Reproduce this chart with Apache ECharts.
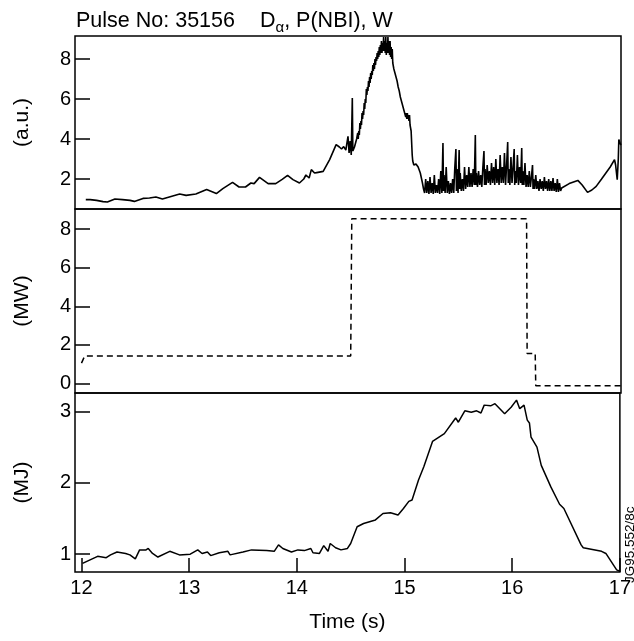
<!DOCTYPE html>
<html><head><meta charset="utf-8">
<script src="https://cdn.jsdelivr.net/npm/echarts@6/dist/echarts.min.js"></script>
<style>html,body{margin:0;padding:0;background:#fff}#c{width:634px;height:641px}</style>
</head><body><div id="c"></div>
<script>
// ---- data (time in s) ----
var xTicks = [12, 13, 14, 15, 16, 17];
var dalphaTicks = [2, 4, 6, 8];
var pnbiTicks = [0, 2, 4, 6, 8];
var wTicks = [1, 2, 3];

var titleMain = 'Pulse No: 35156';
var titleD = 'D';
var titleSub = 'α';
var titleRest = ', P(NBI), W';
var dalphaUnit = '(a.u.)';
var pnbiUnit = '(MW)';
var wUnit = '(MJ)';
var xName = 'Time (s)';
var stamp = 'JG95.552/8c';

// D-alpha signal (a.u.)
var dalpha = [
[12.04,0.97],[12.08,0.97],[12.14,0.93],[12.20,0.87],[12.24,0.85],[12.31,1.0],[12.38,0.97],[12.45,0.93],[12.49,0.88],
[12.57,1.03],[12.63,1.05],[12.69,1.1],[12.75,1.0],[12.83,1.13],[12.91,1.25],[12.97,1.18],[13.06,1.25],[13.16,1.47],
[13.25,1.27],[13.31,1.52],[13.40,1.83],[13.46,1.6],[13.52,1.6],[13.57,1.8],[13.60,1.77],[13.65,2.08],[13.73,1.77],
[13.80,1.77],[13.86,1.98],[13.91,2.18],[13.96,1.97],[14.02,1.8],[14.06,2.0],[14.08,2.2],[14.11,2.05],[14.13,2.47],
[14.16,2.3],[14.18,2.32],[14.24,2.38],[14.30,2.97],[14.36,3.72],[14.39,3.6],[14.41,3.5],[14.43,3.62],[14.45,3.45],
[14.47,4.13],[14.48,3.3],[14.49,3.9],[14.50,3.2],[14.51,6.05],[14.515,3.4],[14.53,3.6],[14.55,4.0],
[14.56,4.3],[14.565,4.0],[14.57,4.4],[14.575,4.2],[14.58,4.8],[14.585,4.5],[14.59,4.9],[14.595,4.7],[14.60,5.3],[14.605,5.0],
[14.61,5.4],[14.615,5.2],[14.62,5.8],[14.625,5.5],[14.63,6.0],[14.635,5.8],[14.64,6.5],[14.645,6.2],[14.65,6.6],[14.655,6.4],
[14.66,6.9],[14.665,6.6],[14.67,7.1],[14.675,6.8],[14.68,7.3],[14.685,7.0],[14.69,7.4],[14.695,7.2],[14.70,7.7],[14.705,7.4],
[14.71,7.8],[14.715,7.5],[14.72,8.0],[14.725,7.7],[14.73,8.1],[14.735,7.9],[14.74,8.3],[14.745,8.0],[14.75,8.4],[14.755,8.1],
[14.76,8.6],[14.765,8.2],[14.77,8.7],[14.775,8.3],[14.78,8.9],[14.785,8.3],[14.79,8.8],[14.795,8.4],[14.80,9.1],[14.805,8.4],
[14.81,8.9],[14.815,8.3],[14.82,9.1],[14.825,8.2],[14.83,8.8],[14.835,8.3],[14.84,9.1],[14.845,8.3],[14.85,8.9],[14.855,8.2],
[14.86,8.9],[14.865,8.1],[14.87,8.6],[14.875,8.0],[14.88,8.5],[14.885,7.8],[14.89,7.9],[14.895,7.5],[14.90,7.6],[14.905,7.3],
[14.91,7.4],[14.915,7.1],[14.92,7.1],[14.925,6.9],[14.93,6.9],[14.935,6.6],[14.94,6.6],[14.945,6.4],[14.95,6.4],[14.955,6.1],
[14.96,6.1],[14.965,5.9],[14.97,5.9],[14.975,5.7],[14.98,5.8],[14.985,5.5],[14.99,5.6],[14.995,5.3],[15.00,5.4],[15.005,5.1],
[15.01,5.3],[15.015,5.0],[15.02,5.3],[15.025,5.0],[15.03,5.2],[15.035,4.9],[15.04,5.2],[15.045,4.7],[15.05,4.7],[15.055,4.4],
[15.06,4.5],[15.065,3.2],[15.07,2.9],[15.08,2.7],[15.10,2.75],[15.12,2.6],[15.13,2.65],[15.14,2.3],[15.15,2.2],[15.16,1.8],
[15.17,1.5],[15.18,1.3],[15.19,2.0],[15.20,1.3],[15.21,1.9],[15.22,1.25],[15.23,2.1],[15.24,1.3],[15.25,1.8],[15.26,1.25],
[15.27,2.2],[15.28,1.3],[15.29,1.7],[15.30,1.3],[15.31,2.0],[15.32,1.25],[15.33,2.4],[15.34,1.3],[15.35,3.8],[15.355,1.4],
[15.36,2.2],[15.37,1.3],[15.38,2.6],[15.39,1.3],[15.40,1.9],[15.41,1.25],[15.42,1.8],[15.43,1.3],[15.44,2.0],[15.45,1.3],
[15.46,2.6],[15.47,3.5],[15.475,1.4],[15.48,2.5],[15.49,1.3],[15.50,3.45],[15.505,1.5],[15.51,2.3],[15.52,1.4],[15.53,2.0],
[15.54,1.4],[15.55,2.6],[15.56,1.5],[15.57,2.2],[15.58,1.6],[15.59,2.6],[15.60,1.6],[15.61,2.3],[15.62,1.6],[15.63,2.5],
[15.64,1.7],[15.65,4.2],[15.655,1.7],[15.66,2.3],[15.67,1.6],[15.68,2.4],[15.69,1.7],[15.70,2.2],[15.71,1.6],[15.72,2.6],
[15.73,3.4],[15.735,1.7],[15.74,2.5],[15.75,1.7],[15.76,2.7],[15.77,1.8],[15.78,2.4],[15.79,1.7],[15.80,2.8],[15.81,1.8],
[15.82,2.6],[15.83,1.7],[15.84,3.0],[15.85,1.8],[15.86,2.5],[15.87,1.7],[15.88,3.2],[15.89,1.8],[15.90,2.6],[15.91,1.8],
[15.92,3.3],[15.93,1.7],[15.94,2.7],[15.95,3.85],[15.955,1.8],[15.96,2.5],[15.97,1.7],[15.98,3.1],[15.99,1.8],[16.00,2.6],
[16.01,3.5],[16.015,1.7],[16.02,2.4],[16.03,1.8],[16.04,3.2],[16.05,1.7],[16.06,2.6],[16.07,1.8],[16.08,3.55],[16.085,1.7],
[16.09,2.4],[16.10,1.7],[16.11,2.8],[16.12,1.6],[16.13,2.2],[16.14,1.6],[16.15,2.4],[16.16,1.6],[16.17,2.1],[16.18,2.7],
[16.185,1.5],[16.19,2.0],[16.20,1.5],[16.21,2.2],[16.22,1.5],[16.23,1.9],[16.24,1.4],[16.25,2.0],[16.26,1.5],[16.27,1.9],
[16.28,1.4],[16.29,2.1],[16.30,1.5],[16.31,1.9],[16.32,1.4],[16.33,2.0],[16.34,1.4],[16.35,1.9],[16.36,1.4],[16.37,2.05],
[16.38,1.4],[16.39,1.8],[16.40,1.35],[16.41,2.0],[16.42,1.35],[16.43,1.8],[16.44,1.4],[16.45,1.55],
[16.52,1.77],[16.56,1.85],[16.60,1.93],[16.64,1.7],[16.69,1.33],[16.73,1.45],[16.77,1.63],[16.82,2.0],[16.86,2.3],
[16.90,2.6],[16.94,2.97],[16.95,2.7],[16.96,2.63],[16.965,1.97],[16.975,3.0],[16.98,3.97],[16.99,3.8],[17.0,3.7]
];

// NBI power (MW)
var pnbi = [
[12.0,1.05],[12.03,1.42],[14.495,1.42],[14.505,8.55],[16.125,8.55],[16.13,1.55],[16.205,1.55],[16.21,-0.12],[17.0,-0.12]
];

// stored energy W (MJ)
var wdia = [
[12.01,0.87],[12.15,0.97],[12.23,0.95],[12.27,0.99],[12.33,1.03],[12.41,1.01],[12.45,0.99],[12.50,0.935],[12.54,1.06],
[12.60,1.06],[12.62,1.08],[12.66,1.01],[12.71,0.96],[12.82,1.04],[12.91,0.99],[13.01,1.0],[13.08,1.06],[13.12,1.01],
[13.17,1.03],[13.20,0.98],[13.28,1.02],[13.36,1.04],[13.38,0.99],[13.50,1.03],[13.58,1.06],[13.72,1.05],[13.79,1.04],
[13.83,1.13],[13.87,1.08],[13.95,1.03],[14.01,1.06],[14.07,1.05],[14.13,1.08],[14.15,1.02],[14.21,1.01],[14.25,1.12],
[14.29,1.04],[14.31,1.15],[14.36,1.09],[14.41,1.06],[14.47,1.08],[14.50,1.15],[14.56,1.385],[14.62,1.43],[14.73,1.48],
[14.80,1.57],[14.87,1.58],[14.94,1.55],[14.99,1.64],[15.04,1.74],[15.07,1.76],[15.13,2.04],[15.18,2.23],[15.26,2.58],
[15.37,2.69],[15.475,2.91],[15.50,2.85],[15.56,3.01],[15.62,2.99],[15.67,3.01],[15.71,2.98],[15.74,3.09],[15.80,3.08],
[15.84,3.11],[15.93,2.97],[15.99,3.06],[16.04,3.16],[16.07,3.04],[16.11,3.09],[16.14,2.88],[16.16,2.84],[16.175,2.64],
[16.23,2.50],[16.27,2.245],[16.36,1.94],[16.44,1.70],[16.48,1.64],[16.64,1.13],[16.66,1.09],[16.83,1.04],[16.87,1.01],
[16.97,0.78],[17.0,0.76]
];

var FONT = '"Liberation Sans", Arial, sans-serif';
var chart = echarts.init(document.getElementById('c'), null, {renderer: 'canvas'});

function yAxis(idx, min, max, ticks, unit) {
  return {
    type: 'value', gridIndex: idx, min: min, max: max,
    name: unit, nameLocation: 'middle', nameGap: 42, nameRotate: 90,
    nameTextStyle: {fontFamily: FONT, fontSize: 21, color: '#000'},
    axisLine: {show: false},
    splitLine: {show: false},
    axisTick: {show: true, inside: true, length: 15, customValues: ticks, lineStyle: {color: '#000', width: 1.5}},
    axisLabel: {show: true, customValues: ticks, margin: 4, fontFamily: FONT, fontSize: 20, color: '#000'}
  };
}
function xAxis(idx, showLabels) {
  return {
    type: 'value', gridIndex: idx, min: 11.94, max: 17.0,
    axisLine: {show: false}, splitLine: {show: false},
    name: showLabels ? xName : '', nameLocation: 'middle', nameGap: 40,
    nameTextStyle: {fontFamily: FONT, fontSize: 21, color: '#000'},
    axisTick: {show: showLabels, inside: true, length: 14, customValues: xTicks, lineStyle: {color: '#000', width: 1.5}},
    axisLabel: {show: showLabels, customValues: xTicks, margin: 6, fontFamily: FONT, fontSize: 20, color: '#000'}
  };
}

var gridStyle = {show: true, borderColor: '#000', borderWidth: 1.5, backgroundColor: 'transparent', containLabel: false};
chart.setOption({
  animation: false,
  backgroundColor: '#fff',
  title: {
    text: '{m|' + titleMain + '}{d|' + titleD + '}{s|' + titleSub + '}{m|' + titleRest + '}',
    left: 71, top: 3,
    textStyle: {
      rich: {
        m: {fontFamily: FONT, fontSize: 21.5, fontWeight: 'normal', color: '#000'},
        d: {fontFamily: FONT, fontSize: 21.5, fontWeight: 'normal', color: '#000', padding: [0, 0, 0, 25]},
        s: {fontFamily: FONT, fontSize: 15, fontWeight: 'normal', color: '#000', verticalAlign: 'bottom', padding: [12, 0, 0, 0]}
      }
    }
  },
  grid: [
    Object.assign({left: 75, right: 13, top: 36, height: 173}, gridStyle),
    Object.assign({left: 75, right: 13, top: 209, height: 184}, gridStyle),
    Object.assign({left: 75, right: 13, top: 393, height: 179}, gridStyle)
  ],
  xAxis: [xAxis(0, false), xAxis(1, false), xAxis(2, true)],
  yAxis: [
    yAxis(0, 0.5, 9.15, dalphaTicks, dalphaUnit),
    yAxis(1, -0.5, 9.05, pnbiTicks, pnbiUnit),
    yAxis(2, 0.75, 3.26, wTicks, wUnit)
  ],
  graphic: [{
    type: 'text', x: 623, y: 583, rotation: Math.PI / 2,
    style: {text: stamp, fontFamily: FONT, fontSize: 13.5, fill: '#000', textAlign: 'left', textVerticalAlign: 'top'}
  }],
  series: [
    {type: 'line', xAxisIndex: 0, yAxisIndex: 0, data: dalpha, showSymbol: false, clip: true,
     lineStyle: {color: '#000', width: 1.6}},
    {type: 'line', xAxisIndex: 1, yAxisIndex: 1, data: pnbi, showSymbol: false, clip: true,
     lineStyle: {color: '#000', width: 1.5, type: [6, 4]}},
    {type: 'line', xAxisIndex: 2, yAxisIndex: 2, data: wdia, showSymbol: false, clip: true,
     lineStyle: {color: '#000', width: 1.5}}
  ]
});
</script></body></html>
